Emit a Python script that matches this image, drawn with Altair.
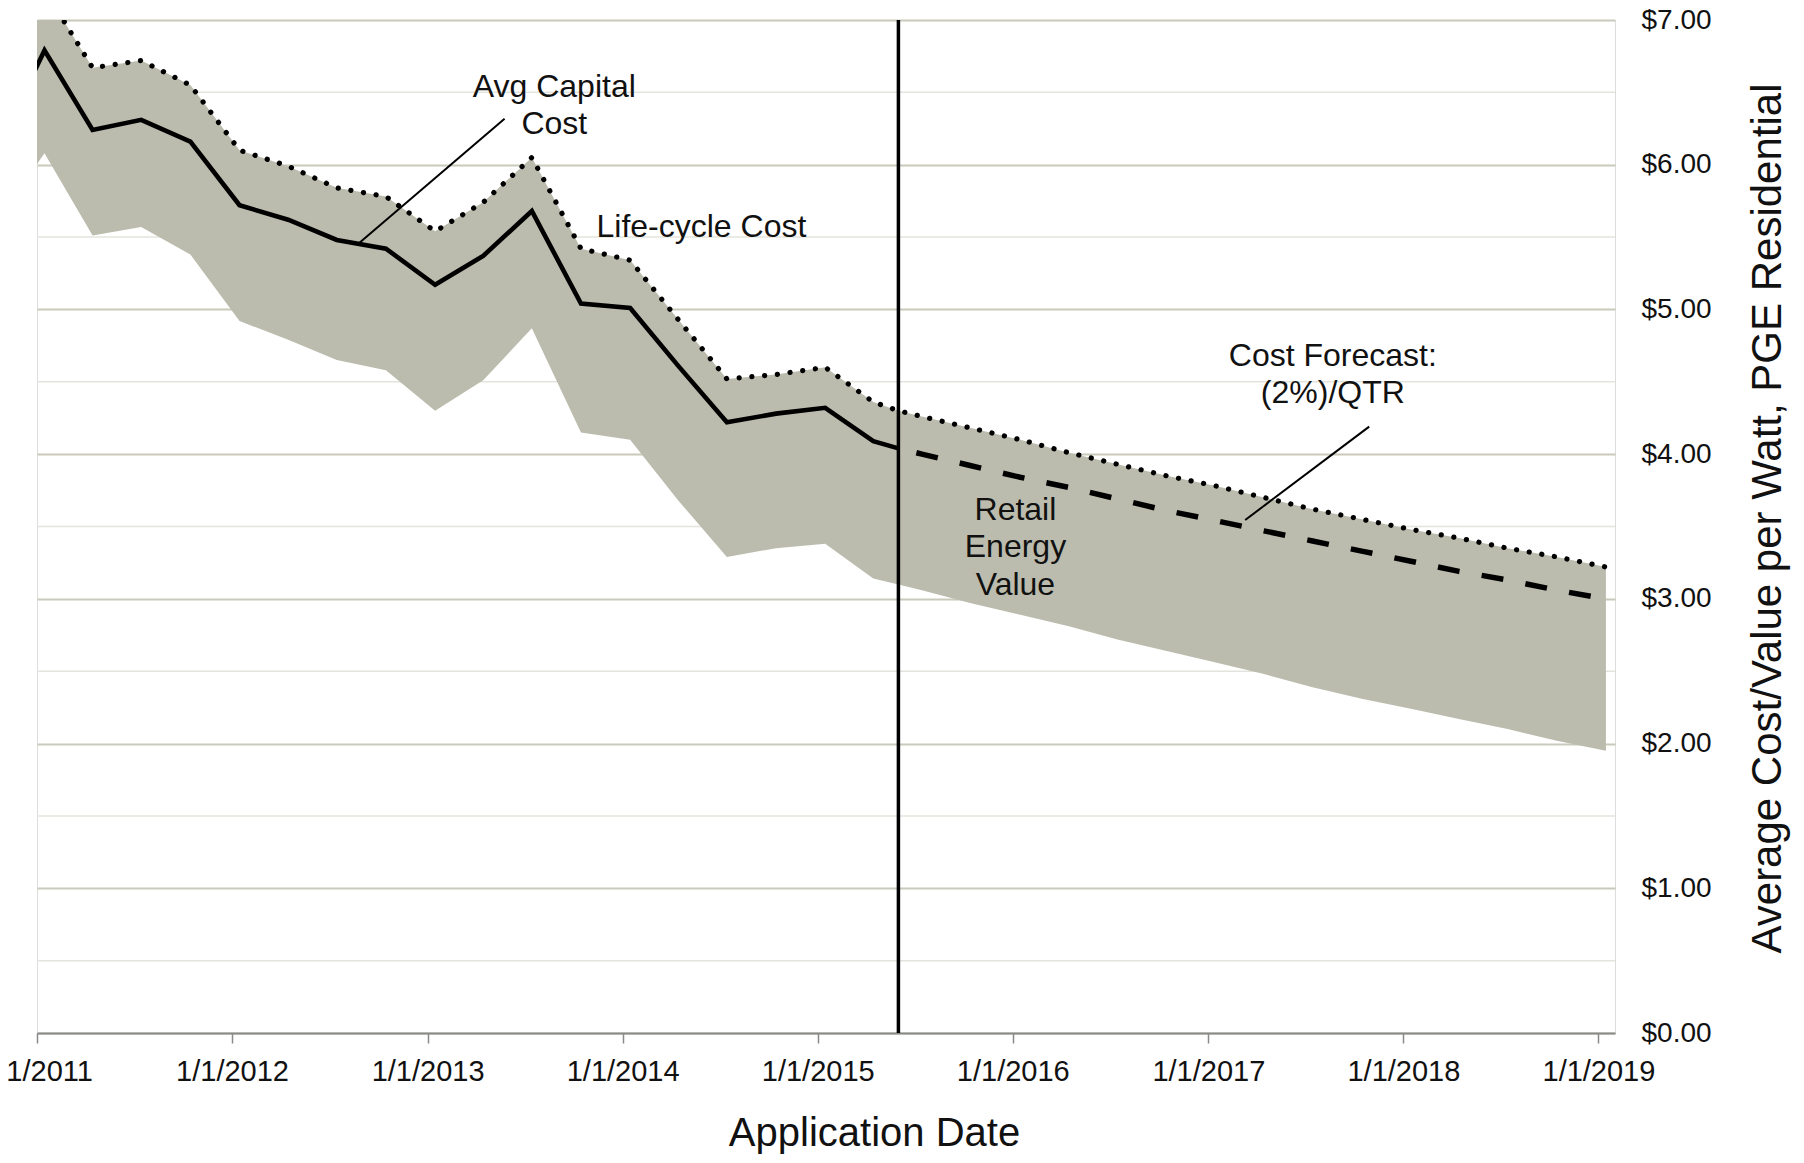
import altair as alt
import pandas as pd

# ---------------- data ----------------
dates = ["2010-10-15", "2011-01-15", "2011-04-15", "2011-07-15", "2011-10-15",
         "2012-01-15", "2012-04-15", "2012-07-15", "2012-10-15",
         "2013-01-15", "2013-04-15", "2013-07-15", "2013-10-15",
         "2014-01-15", "2014-04-15", "2014-07-15", "2014-10-15",
         "2015-01-15", "2015-04-15", "2015-06-01", "2015-07-15", "2015-10-15",
         "2016-01-15", "2016-04-15", "2016-07-15", "2016-10-15",
         "2017-01-15", "2017-04-15", "2017-07-15", "2017-10-15",
         "2018-01-15", "2018-04-15", "2018-07-15", "2018-10-15", "2019-01-15"]

life_cycle_cost = [7.50, 7.21, 6.67, 6.72, 6.55, 6.10, 5.99, 5.84, 5.78, 5.54,
                   5.74, 6.05, 5.42, 5.34, 4.93, 4.52, 4.55, 4.60, 4.36, 4.30,
                   4.26, 4.18, 4.10, 4.01, 3.93, 3.85, 3.78, 3.70, 3.62, 3.55,
                   3.48, 3.42, 3.35, 3.29, 3.22]

retail_energy_value = [5.59, 6.08, 5.51, 5.57, 5.38, 4.92, 4.79, 4.65, 4.58, 4.30,
                       4.51, 4.87, 4.15, 4.10, 3.68, 3.29, 3.35, 3.38, 3.14, 3.10,
                       3.06, 2.97, 2.89, 2.81, 2.72, 2.64, 2.56, 2.48, 2.39, 2.31,
                       2.24, 2.17, 2.10, 2.02, 1.95]

# historical average capital cost (first 20 dates)
avg_capital_cost = [6.08, 6.79, 6.24, 6.31, 6.16, 5.72, 5.62, 5.48, 5.42, 5.17,
                    5.37, 5.68, 5.04, 5.01, 4.61, 4.22, 4.28, 4.32, 4.09, 4.04]

# cost forecast (dates from 2015-06-01 on)
cost_forecast = [4.04, 4.00, 3.92, 3.84, 3.77, 3.69, 3.61, 3.54, 3.47, 3.40,
                 3.33, 3.26, 3.19, 3.13, 3.06, 3.00]

forecast_start = "2015-06-01"

x_tick_years = [2011, 2012, 2013, 2014, 2015, 2016, 2017, 2018, 2019]
y_ticks = [0, 1, 2, 3, 4, 5, 6, 7]
y_minor = [0.5, 1.5, 2.5, 3.5, 4.5, 5.5, 6.5]

# annotations (data units)
label_dates = ["2013-08-26", "2016-01-06", "2017-08-22"]
label_values = [6.469, 3.545, 4.612]
label_texts = ["Avg Capital\nCost", "Retail\nEnergy\nValue", "Cost Forecast:\n(2%)/QTR"]

lc_label_date = ["2013-11-13"]
lc_label_value = [5.501]
lc_label_text = ["Life-cycle Cost"]

leader_start_dates = ["2012-08-27", "2017-03-11"]
leader_start_values = [5.462, 3.545]
leader_end_dates = ["2013-05-25", "2017-10-29"]
leader_end_values = [6.317, 4.19]

# ---------------- frames ----------------
band_df = pd.DataFrame({"date": pd.to_datetime(dates),
                        "life": life_cycle_cost,
                        "retail": retail_energy_value})
cap_df = pd.DataFrame({"date": pd.to_datetime(dates[:len(avg_capital_cost)]),
                       "value": avg_capital_cost})
fc_df = pd.DataFrame({"date": pd.to_datetime(dates[len(dates) - len(cost_forecast):]),
                      "value": cost_forecast})
vline_df = pd.DataFrame({"date": pd.to_datetime([forecast_start])})
minor_df = pd.DataFrame({"y": y_minor})
lab_df = pd.DataFrame({"date": pd.to_datetime(label_dates), "value": label_values,
                       "text": label_texts})
lc_df = pd.DataFrame({"date": pd.to_datetime(lc_label_date), "value": lc_label_value,
                      "text": lc_label_text})
lead_df = pd.DataFrame({"d1": pd.to_datetime(leader_start_dates), "v1": leader_start_values,
                        "d2": pd.to_datetime(leader_end_dates), "v2": leader_end_values})

FONT = "Liberation Sans"
W, H = 1578, 1013

x_scale = alt.Scale(domain=[alt.DateTime(year=2011, month=1, date=1),
                            alt.DateTime(year=2019, month=2, date=1)])
y_scale = alt.Scale(domain=[0, 7], nice=False)

x_axis = alt.Axis(
    values=[alt.DateTime(year=y, month=1, date=1) for y in x_tick_years],
    format="%-m/%-d/%Y", grid=False, domainColor="#8a8a8a", domainWidth=2,
    tickColor="#8a8a8a", tickWidth=1.5, tickSize=10, labelPadding=14,
    labelFont=FONT, labelFontSize=29, labelColor="#111111", labelFlush=False,
    labelOverlap=False, labelBaseline="top",
    title="Application Date", titleFont=FONT, titleFontSize=40,
    titleFontWeight="normal", titleColor="#111111", titleX=837, titleY=112,
    titleAlign="center", titleBaseline="alphabetic")

y_axis = alt.Axis(
    orient="right", values=y_ticks, format="$.2f", grid=True,
    gridColor="#c9c9bc", gridWidth=2, domain=False, ticks=False,
    labelPadding=26, labelAlign="left", labelFont=FONT, labelFontSize=28,
    labelColor="#111111",
    title="Average Cost/Value per Watt, PGE Residential", titleFont=FONT,
    titleFontSize=42, titleFontWeight="normal", titleColor="#111111",
    titleAngle=270, titleX=152, titleY=498, titleAlign="center",
    titleBaseline="middle")

minor = alt.Chart(minor_df).mark_rule(color="#e4e4de", strokeWidth=1.5).encode(
    y=alt.Y("y:Q", scale=y_scale, axis=y_axis))

band = alt.Chart(band_df).mark_area(color="#bbbcad", clip=True).encode(
    x=alt.X("date:T", scale=x_scale, axis=x_axis),
    y=alt.Y("life:Q", scale=y_scale),
    y2="retail:Q")

life_line = alt.Chart(band_df).mark_line(
    color="black", strokeWidth=5.2, strokeDash=[0.1, 12.7], strokeCap="round",
    clip=True).encode(x=alt.X("date:T", scale=x_scale), y=alt.Y("life:Q", scale=y_scale))

cap_line = alt.Chart(cap_df).mark_line(color="black", strokeWidth=4.6, clip=True).encode(
    x=alt.X("date:T", scale=x_scale), y=alt.Y("value:Q", scale=y_scale))

fc_line = alt.Chart(fc_df).mark_line(
    color="black", strokeWidth=5.5, strokeDash=[22, 22.5], strokeDashOffset=26,
    clip=True).encode(x=alt.X("date:T", scale=x_scale), y=alt.Y("value:Q", scale=y_scale))

vline = alt.Chart(vline_df).mark_rule(color="black", strokeWidth=3.5).encode(
    x=alt.X("date:T", scale=x_scale))

leaders = alt.Chart(lead_df).mark_rule(color="black", strokeWidth=2).encode(
    x=alt.X("d1:T", scale=x_scale), y=alt.Y("v1:Q", scale=y_scale),
    x2="d2:T", y2="v2:Q")

labels = alt.Chart(lab_df).mark_text(
    font=FONT, fontSize=32, color="#111111", align="center", baseline="alphabetic",
    lineBreak="\n", lineHeight=37.5).encode(
    x=alt.X("date:T", scale=x_scale), y=alt.Y("value:Q", scale=y_scale), text="text:N")

lc_label = alt.Chart(lc_df).mark_text(
    font=FONT, fontSize=32, color="#111111", align="left", baseline="alphabetic").encode(
    x=alt.X("date:T", scale=x_scale), y=alt.Y("value:Q", scale=y_scale), text="text:N")

chart = alt.layer(minor, band, life_line, cap_line, fc_line, vline, leaders,
                  labels, lc_label).properties(
    width=W, height=H,
    autosize=alt.AutoSizeParams(type="none"),
    padding={"left": 29, "top": 12, "right": 181, "bottom": 122},
).configure_view(strokeWidth=0).configure(font=FONT)

chart.save("out.html", embed_options={"renderer": "svg", "actions": False})
